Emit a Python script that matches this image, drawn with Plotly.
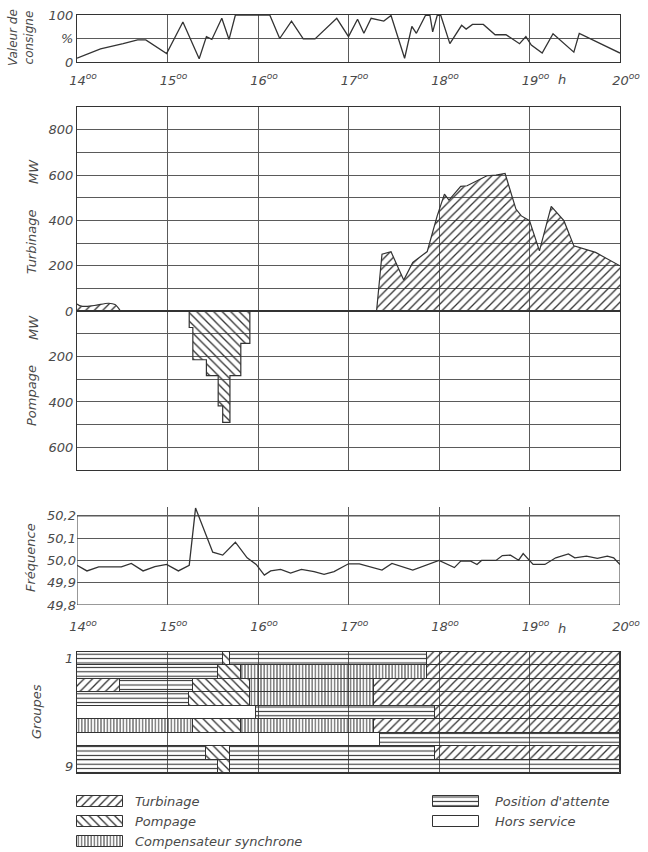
import plotly.graph_objects as go

# ---------------- data ----------------
hours = [14, 15, 16, 17, 18, 19, 20]
hour_labels = ["14<sup>oo</sup>", "15<sup>oo</sup>", "16<sup>oo</sup>", "17<sup>oo</sup>",
               "18<sup>oo</sup>", "19<sup>oo</sup>", "20<sup>oo</sup>"]

# Valeur de consigne (%)
sp_t = [14.00, 14.26, 14.51, 14.67, 14.76, 14.99, 15.17, 15.35, 15.43, 15.49, 15.60, 15.68,
        15.75, 16.13, 16.24, 16.37, 16.50, 16.63, 16.87, 17.00, 17.10, 17.17, 17.25, 17.39,
        17.47, 17.62, 17.70, 17.75, 17.85, 17.90, 17.93, 17.98, 18.02, 18.12, 18.25, 18.30,
        18.37, 18.49, 18.62, 18.74, 18.89, 18.96, 19.02, 19.14, 19.26, 19.49, 19.55, 20.00]
sp_v = [8, 28, 39, 47, 47, 18, 85, 7, 54, 48, 93, 48,
        100, 100, 50, 87, 49, 49, 93, 54, 91, 61, 93, 87,
        99, 8, 76, 61, 99, 99, 64, 99, 99, 39, 78, 70,
        80, 80, 58, 58, 39, 54, 36, 19, 60, 21, 61, 19]

# Turbinage (MW)
turb0_t = [14.00, 14.05, 14.19, 14.35, 14.42, 14.48]
turb0_v = [32, 22, 25, 35, 29, 0]
turb_t = [17.31, 17.37, 17.47, 17.61, 17.71, 17.87, 17.98, 18.06, 18.11, 18.24, 18.31,
          18.53, 18.63, 18.73, 18.85, 18.91, 19.00, 19.11, 19.24, 19.38, 19.49, 19.73, 20.00]
turb_v = [0, 251, 262, 137, 215, 263, 420, 516, 490, 550, 553,
          597, 600, 607, 450, 420, 399, 266, 462, 399, 288, 259, 200]

# Pompage (MW, step profile)
pomp_t = [15.24, 15.24, 15.28, 15.43, 15.56, 15.61, 15.69, 15.81, 15.91]
pomp_v = [0, 72, 214, 284, 417, 490, 284, 142, 0]

# Fréquence (Hz)
fr_t = [14.00, 14.11, 14.24, 14.49, 14.60, 14.73, 14.86, 14.99, 15.12, 15.24, 15.31, 15.50,
        15.61, 15.75, 15.88, 15.98, 16.07, 16.14, 16.25, 16.36, 16.48, 16.62, 16.73, 16.84,
        17.00, 17.12, 17.37, 17.48, 17.71, 18.00, 18.17, 18.24, 18.35, 18.42, 18.47, 18.63,
        18.70, 18.79, 18.88, 18.93, 19.04, 19.17, 19.29, 19.43, 19.50, 19.63, 19.75, 19.86,
        19.93, 20.00]
fr_v = [49.978, 49.953, 49.971, 49.971, 49.987, 49.953, 49.972, 49.982, 49.953, 49.978,
        50.235, 50.037, 50.024, 50.082, 50.012, 49.982, 49.934, 49.953, 49.960, 49.943,
        49.960, 49.950, 49.938, 49.950, 49.985, 49.985, 49.957, 49.987, 49.957, 50.000,
        49.968, 49.997, 49.997, 49.982, 50.000, 50.000, 50.022, 50.024, 50.001, 50.031,
        49.982, 49.982, 50.012, 50.029, 50.012, 50.019, 50.009, 50.019, 50.012, 49.982]

# Groupes: segments (row, start, end, state)
seg_row = [1, 1, 1, 1,
           2, 2, 2, 2,
           3, 3, 3, 3, 3,
           4, 4, 4, 4,
           5, 5, 5,
           6, 6, 6, 6,
           7, 7,
           8, 8, 8, 8,
           9, 9, 9]
seg_start = [14.00, 15.61, 15.69, 17.87,
             14.00, 15.56, 15.81, 17.87,
             14.00, 14.48, 15.28, 15.91, 17.28,
             14.00, 15.24, 15.91, 17.28,
             14.00, 15.98, 17.96,
             14.00, 15.28, 15.81, 17.28,
             14.00, 17.35,
             14.00, 15.43, 15.69, 17.96,
             14.00, 15.56, 15.69]
seg_end = [15.61, 15.69, 17.87, 20.00,
           15.56, 15.81, 17.87, 20.00,
           14.48, 15.28, 15.91, 17.28, 20.00,
           15.24, 15.91, 17.28, 20.00,
           15.98, 17.96, 20.00,
           15.28, 15.81, 17.28, 20.00,
           17.35, 20.00,
           15.43, 15.69, 17.96, 20.00,
           15.56, 15.69, 20.00]
seg_state = ["A", "P", "A", "T",
             "A", "P", "C", "T",
             "T", "A", "P", "C", "T",
             "A", "P", "C", "T",
             "H", "A", "T",
             "C", "P", "C", "T",
             "H", "A",
             "A", "P", "A", "T",
             "A", "P", "A"]

state_keys = ["T", "P", "C", "A", "H"]
state_names = ["Turbinage", "Pompage", "Compensateur synchrone", "Position d'attente", "Hors service"]

# ---------------- styles ----------------
INK = "#333333"
GRID = "#5a5a5a"
TXT = "#4a4a4a"
FONT = "DejaVu Sans"
W, H = 648, 852
X0, X1 = 77, 620

pattern_style = {
    "T": dict(shape="/", size=6, solidity=0.22),
    "P": dict(shape="\\", size=6, solidity=0.22),
    "C": dict(shape="|", size=3.2, solidity=0.3),
    "A": dict(shape="-", size=4.4, solidity=0.25),
    "H": dict(shape="", size=6, solidity=0.2),
}


def py(px):
    return 1 - px / H


fig = go.Figure()

# top panel
fig.add_trace(go.Scatter(x=sp_t, y=sp_v, mode="lines", line=dict(color=INK, width=1.3),
                         xaxis="x", yaxis="y", showlegend=False))

# middle panel
fig.add_trace(go.Scatter(x=turb0_t, y=turb0_v, mode="lines", line=dict(color=INK, width=1.2, shape="spline"),
                         fill="tozeroy", fillcolor="rgba(0,0,0,0)",
                         fillpattern=dict(shape="/", size=6, solidity=0.22, fgcolor=INK, bgcolor="rgba(0,0,0,0)"),
                         xaxis="x2", yaxis="y2", showlegend=False))
fig.add_trace(go.Scatter(x=turb_t, y=turb_v, mode="lines", line=dict(color=INK, width=1.2),
                         fill="tozeroy", fillcolor="rgba(0,0,0,0)",
                         fillpattern=dict(shape="/", size=6, solidity=0.22, fgcolor=INK, bgcolor="rgba(0,0,0,0)"),
                         xaxis="x2", yaxis="y2", showlegend=False))
fig.add_trace(go.Scatter(x=pomp_t, y=[-v for v in pomp_v], mode="lines",
                         line=dict(color=INK, width=1.2, shape="hv"),
                         fill="tozeroy", fillcolor="rgba(0,0,0,0)",
                         fillpattern=dict(shape="\\", size=6, solidity=0.22, fgcolor=INK, bgcolor="rgba(0,0,0,0)"),
                         xaxis="x2", yaxis="y2", showlegend=False))

# frequency panel
fig.add_trace(go.Scatter(x=fr_t, y=fr_v, mode="lines", line=dict(color=INK, width=1.3),
                         xaxis="x3", yaxis="y3", showlegend=False))

# groups panel
for key in state_keys:
    idx = [i for i, s in enumerate(seg_state) if s == key]
    ps = pattern_style[key]
    fig.add_trace(go.Bar(
        y=[seg_row[i] for i in idx],
        base=[seg_start[i] for i in idx],
        x=[seg_end[i] - seg_start[i] for i in idx],
        orientation="h", width=1.0,
        marker=dict(color=INK if key != "H" else "rgba(0,0,0,0)",
                    line=dict(color=INK, width=1),
                    pattern=dict(shape=ps["shape"], size=ps["size"], solidity=ps["solidity"],
                                 fillmode="replace")),
        xaxis="x4", yaxis="y4", showlegend=False, hoverinfo="skip"))

# legend swatches (pixel-unit helper axis)
leg_x = [X0, X0, X0, 433, 433]
leg_y = [801, 821, 841, 801, 821]
leg_w = 46
for k, key in enumerate(state_keys):
    ps = pattern_style[key]
    fig.add_trace(go.Bar(
        y=[leg_y[k]], base=[leg_x[k]], x=[leg_w], orientation="h", width=11,
        marker=dict(color=INK if key != "H" else "rgba(0,0,0,0)",
                    line=dict(color=INK, width=1),
                    pattern=dict(shape=ps["shape"], size=ps["size"], solidity=ps["solidity"],
                                 fillmode="replace")),
        xaxis="x5", yaxis="y5", showlegend=False, hoverinfo="skip"))
    fig.add_annotation(x=leg_x[k] + leg_w + 10 + (4 if k >= 3 else 0), y=leg_y[k], xref="x5", yref="y5",
                       text=state_names[k], showarrow=False, xanchor="left", yanchor="middle",
                       font=dict(family=FONT, size=13, color=TXT, style="italic"))

tickfont = dict(family=FONT, size=13, color=TXT, style="italic")
xdom = [X0 / W, X1 / W]

common_x = dict(range=[14, 20], tickvals=hours, ticktext=hour_labels, showgrid=True,
                gridcolor=GRID, gridwidth=1, zeroline=False, ticks="", tickfont=tickfont,
                domain=xdom, fixedrange=True, ticklabelshift=6, automargin=False)
common_y = dict(zeroline=False, ticks="", tickfont=tickfont, automargin=False, fixedrange=True)

fig.update_layout(
    template="none",
    width=W, height=H, margin=dict(l=0, r=0, t=0, b=0, autoexpand=False),
    paper_bgcolor="white", plot_bgcolor="rgba(0,0,0,0)",
    barmode="overlay", bargap=0, showlegend=False,
    xaxis=dict(common_x, anchor="y", showline=True, mirror=True, linecolor=INK, linewidth=1,
               ticklabelstandoff=6),
    yaxis=dict(common_y, domain=[py(62), py(15)], range=[0, 100], tickvals=[0, 50, 100],
               ticktext=["0", "%", "100"], showgrid=True, gridcolor=GRID,
               showline=True, mirror=True, linecolor=INK, anchor="x"),
    xaxis2=dict(common_x, anchor="y2", showticklabels=False, showline=True, mirror=True,
                linecolor=INK),
    yaxis2=dict(common_y, domain=[py(470), py(107)], range=[-700, 900],
                tickvals=list(range(-600, 900, 100)),
                ticktext=[str(abs(v)) if v % 200 == 0 else "" for v in range(-600, 900, 100)],
                showgrid=True, gridcolor=GRID, zeroline=True, zerolinecolor=INK, zerolinewidth=1.5,
                showline=True, mirror=True, linecolor=INK, anchor="x2"),
    xaxis3=dict(common_x, anchor="y3", showline=False, ticklabelstandoff=12),
    yaxis3=dict(common_y, domain=[py(605), py(507)], range=[49.8, 50.24],
                tickvals=[49.8, 49.9, 50.0, 50.1, 50.2],
                ticktext=["49,8", "49,9", "50,0", "50,1", "50,2"],
                showgrid=True, gridcolor=GRID, showline=False, anchor="x3"),
    xaxis4=dict(common_x, anchor="y4", showticklabels=False, showline=True, mirror=True,
                linecolor=INK),
    yaxis4=dict(common_y, domain=[py(773), py(652)], range=[9.5, 0.5], tickvals=[1, 9],
                ticktext=["1", "9"], showgrid=False, showline=True, mirror=True, linecolor=INK,
                anchor="x4"),
    xaxis5=dict(domain=[0, 1], range=[0, W], visible=False, anchor="y5", fixedrange=True),
    yaxis5=dict(domain=[0, py(786)], range=[852, 786], visible=False, anchor="x5", fixedrange=True),
)

# frame of frequency panel (peak crosses the top edge)
fig.add_shape(type="rect", xref="x3", yref="y3", x0=14, x1=20, y0=49.8, y1=50.2,
              line=dict(color=INK, width=1), layer="below")

# "h" unit markers
for xr, yr, ys in [("x", "y", -8), ("x3", "y3", -14)]:
    fig.add_annotation(x=19.36, y=0, xref=xr, yref=yr + " domain", text="h", showarrow=False,
                       yanchor="top", yshift=ys, font=dict(family=FONT, size=13, color=TXT, style="italic"))

# rotated axis titles
titles = [("Valeur de<br>consigne", 21, 38, 12),
          ("MW", 33, 172, 13), ("Turbinage", 31, 242, 13),
          ("MW", 33, 328, 13), ("Pompage", 31, 396, 13),
          ("Fréquence", 30, 558, 13), ("Groupes", 36, 712, 13)]
for txt, xp, ypx, fs in titles:
    fig.add_annotation(x=xp / W, y=py(ypx), xref="paper", yref="paper", text=txt, textangle=-90,
                       xanchor="center", yanchor="middle",
                       showarrow=False, font=dict(family=FONT, size=fs, color=TXT, style="italic"))

fig.write_html("out.html", config={"displayModeBar": False},
               post_script="document.body.style.margin='0px';document.body.style.overflow='hidden';")
